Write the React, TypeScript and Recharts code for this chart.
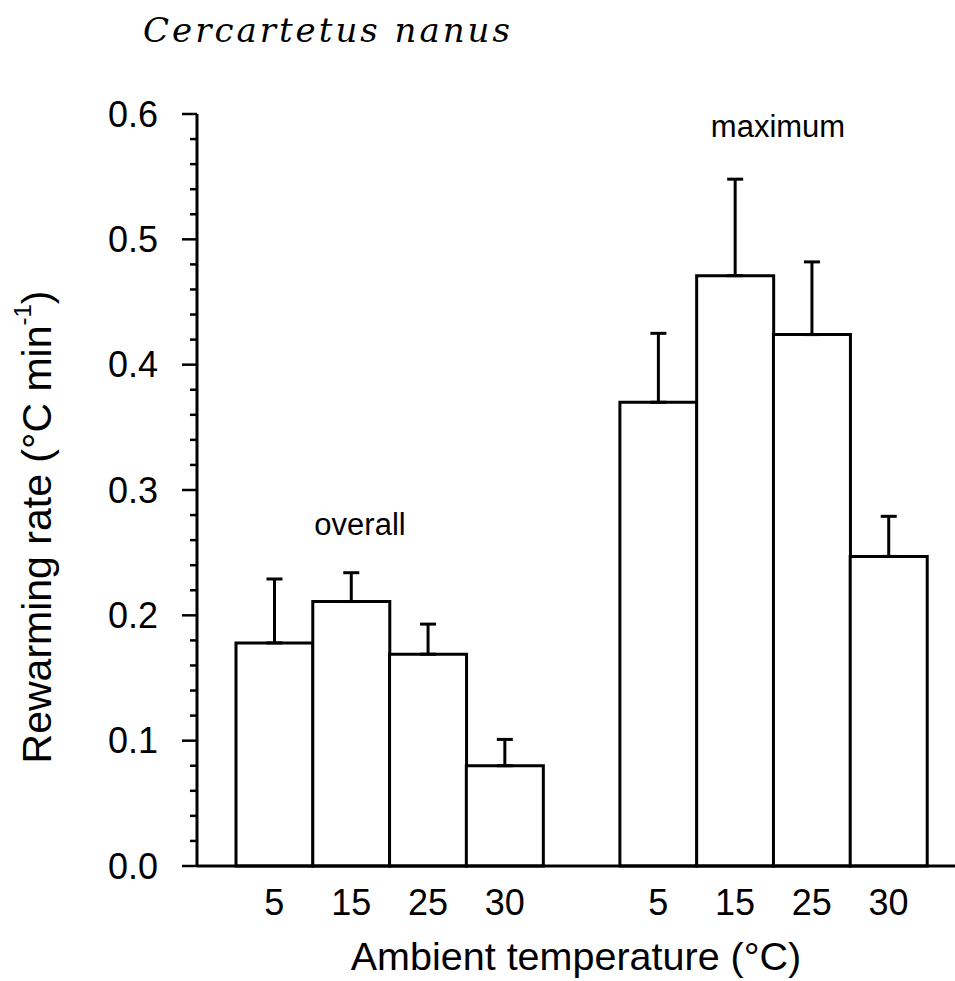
import { BarChart, Bar, XAxis, YAxis, ErrorBar } from 'recharts';

const overallTemps = ['5', '15', '25', '30'];
const overallMeans = [0.178, 0.211, 0.169, 0.08];
const overallSE = [0.051, 0.023, 0.024, 0.021];

const maximumTemps = ['5', '15', '25', '30'];
const maximumMeans = [0.37, 0.471, 0.424, 0.247];
const maximumSE = [0.055, 0.077, 0.058, 0.032];

const yTicks = [
  0, 0.02, 0.04, 0.06, 0.08, 0.1, 0.12, 0.14, 0.16, 0.18, 0.2, 0.22, 0.24, 0.26, 0.28, 0.3,
  0.32, 0.34, 0.36, 0.38, 0.4, 0.42, 0.44, 0.46, 0.48, 0.5, 0.52, 0.54, 0.56, 0.58, 0.6,
];

const FONT = '"Liberation Sans", Arial, Helvetica, sans-serif';

const data = [
  ...overallTemps.map((t, i) => ({ id: `o-${t}`, label: t, value: overallMeans[i], err: [0, overallSE[i]] })),
  { id: 'gap', label: '', value: null, err: null },
  ...maximumTemps.map((t, i) => ({ id: `m-${t}`, label: t, value: maximumMeans[i], err: [0, maximumSE[i]] })),
];

const YTick = (props: any) => {
  const { x, y, payload } = props;
  const v = payload.value;
  const major = Math.round(v * 100) % 10 === 0;
  return (
    <g>
      <line x1={x - (major ? 15 : 7)} y1={y} x2={x} y2={y} stroke="#000" strokeWidth={2.5} />
      {major && (
        <text x={x - 39} y={y} textAnchor="end" dominantBaseline="central" fontSize={36} fontFamily={FONT} fill="#000">
          {v.toFixed(1)}
        </text>
      )}
    </g>
  );
};

const YLabel = (props: any) => {
  const vb = props.viewBox || { x: 0, y: 114, width: 197, height: 752 };
  const cx = vb.x + 37;
  const cy = vb.y + vb.height / 2 + 37;
  return (
    <text
      x={cx}
      y={cy}
      transform={`rotate(-90, ${cx}, ${cy})`}
      textAnchor="middle"
      dominantBaseline="central"
      fontSize={41}
      fontFamily={FONT}
      fill="#000"
    >
      Rewarming rate (°C min
      <tspan dy={-15} fontSize={24}>-1</tspan>
      <tspan dy={15}>)</tspan>
    </text>
  );
};

export default function App() {
  return (
    <div style={{ position: 'absolute', left: 0, top: 0, width: 955, height: 981, background: '#fff' }}>
      <div
        style={{
          position: 'absolute',
          left: 143,
          top: 10,
          fontFamily: '"DejaVu Serif", serif',
          fontStyle: 'italic',
          fontSize: 34,
          letterSpacing: 3,
          color: '#000',
        }}
      >
        Cercartetus nanus
      </div>
      <BarChart
        width={955}
        height={981}
        data={data}
        margin={{ top: 114, right: 0, bottom: 0, left: 0 }}
        barCategoryGap={0}
      >
        <XAxis
          dataKey="id"
          tickFormatter={(v: string) => (v === 'gap' ? '' : v.split('-')[1])}
          interval={0}
          height={115}
          padding={{ left: 39, right: 28 }}
          tickLine={false}
          tickSize={0}
          tickMargin={23}
          axisLine={{ stroke: '#000', strokeWidth: 3 }}
          tick={{ fill: '#000', fontSize: 36, fontFamily: FONT }}
          label={{
            value: 'Ambient temperature (°C)',
            position: 'insideBottom',
            offset: 11,
            fill: '#000',
            fontSize: 39.5,
            fontFamily: FONT,
          }}
        />
        <YAxis
          domain={[0, 0.6]}
          ticks={yTicks}
          interval={0}
          width={197}
          tickLine={false}
          tickSize={0}
          tickMargin={0}
          tick={<YTick />}
          axisLine={{ stroke: '#000', strokeWidth: 3 }}
          label={<YLabel />}
        />
        <Bar dataKey="value" fill="#fff" stroke="#000" strokeWidth={3} isAnimationActive={false}>
          <ErrorBar dataKey="err" width={8} stroke="#000" strokeWidth={3} direction="y" />
        </Bar>
      </BarChart>
      <div
        style={{
          position: 'absolute',
          left: 360,
          top: 525,
          transform: 'translate(-50%, -50%)',
          fontFamily: FONT,
          fontSize: 31,
          color: '#000',
        }}
      >
        overall
      </div>
      <div
        style={{
          position: 'absolute',
          left: 778,
          top: 127,
          transform: 'translate(-50%, -50%)',
          fontFamily: FONT,
          fontSize: 31,
          color: '#000',
        }}
      >
        maximum
      </div>
    </div>
  );
}
